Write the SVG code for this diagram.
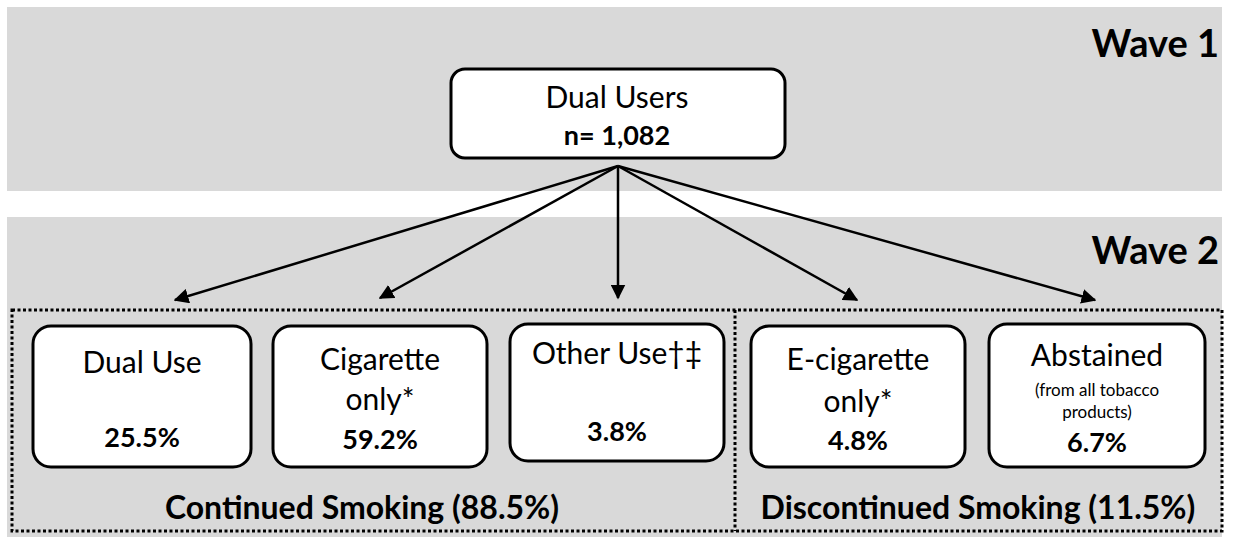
<svg xmlns="http://www.w3.org/2000/svg" width="1233" height="542" viewBox="0 0 1233 542">
<defs>
<style>
.band{fill:#d9d9d9}
.box{fill:#fff;stroke:#000;stroke-width:3}
.t{font-family:Lato,"Open Sans","Liberation Sans",sans-serif;fill:#000;text-anchor:middle}
.r{font-size:30px}
.b{font-size:27px;font-weight:bold}
.s{font-size:17px}
.wave{font-family:Lato,"Open Sans","Liberation Sans",sans-serif;font-size:38px;font-weight:bold;text-anchor:end}
.lbl{font-size:32px;font-weight:bold}
.con{stroke:#000;stroke-width:2.5;fill:none;marker-end:url(#ah)}
.dot{fill:none;stroke:#000;stroke-width:3;stroke-dasharray:3 2.5}
</style>
<marker id="ah" viewBox="0 0 10 10" refX="9" refY="5" markerWidth="6" markerHeight="6" markerUnits="strokeWidth" orient="auto">
<path d="M0,0 L10,5 L0,10 z" fill="#000"/>
</marker>
</defs>
<rect width="1233" height="542" fill="#fff"/>
<rect class="band" x="7" y="7" width="1215" height="184"/>
<rect class="band" x="7" y="217" width="1215" height="320"/>
<text class="wave" x="1219" y="57">Wave 1</text>
<text class="wave" x="1219" y="264">Wave 2</text>
<g id="groups">
<rect class="dot" x="12" y="310" width="1210" height="221"/>
<line class="dot" x1="735" y1="310" x2="735" y2="531"/>
<text class="t lbl" x="362" y="519">Continued Smoking (88.5%)</text>
<text class="t lbl" x="978" y="519">Discontinued Smoking (11.5%)</text>
</g>
<g id="connectors">
<line class="con" x1="618" y1="166" x2="175" y2="300"/>
<line class="con" x1="618" y1="166" x2="380" y2="298"/>
<line class="con" x1="618" y1="166" x2="618" y2="298"/>
<line class="con" x1="618" y1="166" x2="857" y2="300"/>
<line class="con" x1="618" y1="166" x2="1095" y2="300"/>
</g>
<g id="dual-users">
<rect class="box" x="451" y="69" width="334" height="89" rx="14"/>
<text class="t r" x="617" y="108">Dual Users</text>
<text class="t b" x="617" y="145">n= 1,082</text>
</g>
<g id="dual-use">
<rect class="box" x="33" y="326" width="218" height="141" rx="18"/>
<text class="t r" x="142" y="373">Dual Use</text>
<text class="t b" x="142" y="447">25.5%</text>
</g>
<g id="cigarette-only">
<rect class="box" x="273" y="326" width="214" height="141" rx="18"/>
<text class="t r" x="380" y="370">Cigarette</text>
<text class="t r" x="380" y="410">only*</text>
<text class="t b" x="380" y="449">59.2%</text>
</g>
<g id="other-use">
<rect class="box" x="510" y="324" width="214" height="137" rx="18"/>
<text class="t r" x="617" y="364">Other Use†‡</text>
<text class="t b" x="617" y="441">3.8%</text>
</g>
<g id="e-cigarette-only">
<rect class="box" x="751" y="326" width="214" height="141" rx="18"/>
<text class="t r" x="858" y="370">E-cigarette</text>
<text class="t r" x="858" y="412">only*</text>
<text class="t b" x="858" y="450">4.8%</text>
</g>
<g id="abstained">
<rect class="box" x="989" y="324" width="216" height="143" rx="18"/>
<text class="t r" x="1097" y="366">Abstained</text>
<text class="t s" x="1097" y="396">(from all tobacco</text>
<text class="t s" x="1097" y="418">products)</text>
<text class="t b" x="1097" y="452">6.7%</text>
</g>
</svg>
